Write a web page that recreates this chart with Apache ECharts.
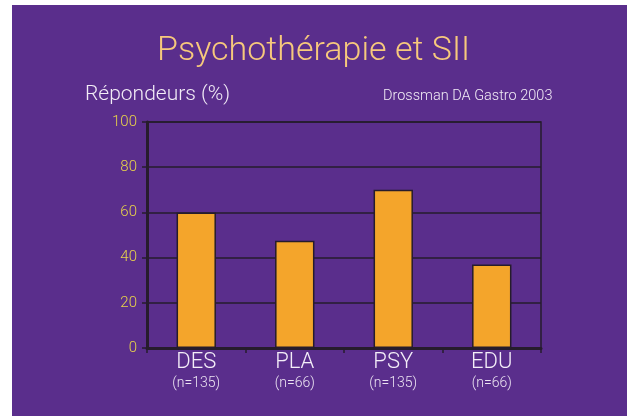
<!DOCTYPE html>
<html>
<head>
<meta charset="utf-8">
<script src="https://cdn.jsdelivr.net/npm/echarts@6/dist/echarts.min.js"></script>
<style>
html,body{margin:0;padding:0;background:#ffffff;}
#chart{width:627px;height:416px;}
</style>
</head>
<body>
<div id="chart"></div>
<script>
var categories = ['DES', 'PLA', 'PSY', 'EDU'];
var sampleSizes = ['(n=135)', '(n=66)', '(n=135)', '(n=66)'];
var responders = [60, 47.5, 70, 37];
var yTicks = { min: 0, max: 100, interval: 20 };

var chart = echarts.init(document.getElementById('chart'), null, { renderer: 'canvas' });
var dark = '#261c2c';
chart.setOption({
  backgroundColor: '#ffffff',
  animation: false,
  graphic: [
    { type: 'rect', z: -10, silent: true, shape: { x: 12, y: 5, width: 615, height: 411 }, style: { fill: '#5a2e8c' } },
    { type: 'text', left: 85, top: 84, style: { text: 'Répondeurs (%)', fill: '#f2ecf6', font: '300 21px Roboto' } },
    { type: 'text', left: 383, top: 89, style: { text: 'Drossman DA Gastro 2003', fill: '#f2ecf6', font: '300 14.5px Roboto' } }
  ],
  title: {
    text: 'Psychothérapie et SII',
    left: 'center', top: 29,
    textStyle: { color: '#f7c97c', fontFamily: 'Roboto', fontWeight: 300, fontSize: 34 }
  },
  grid: { left: 147, right: 86, top: 122, bottom: 68, show: true, borderColor: dark, borderWidth: 1.5, backgroundColor: 'transparent' },
  xAxis: {
    type: 'category',
    data: categories,
    axisLine: { lineStyle: { color: dark, width: 3 } },
    axisTick: { show: true, length: 5, lineStyle: { color: dark, width: 1.5 } },
    axisLabel: {
      margin: 3,
      formatter: function (v, i) { return '{a|' + v + '}\n{b|' + sampleSizes[i] + '}'; },
      rich: {
        a: { color: '#f4eef8', fontFamily: 'Roboto', fontWeight: 300, fontSize: 22, lineHeight: 22 },
        b: { color: '#ece4f2', fontFamily: 'Roboto', fontWeight: 300, fontSize: 14, lineHeight: 20 }
      }
    }
  },
  yAxis: {
    type: 'value',
    min: yTicks.min, max: yTicks.max, interval: yTicks.interval,
    axisLine: { show: true, lineStyle: { color: dark, width: 3 } },
    axisTick: { show: true, length: 5, lineStyle: { color: dark, width: 1.5 } },
    splitLine: { lineStyle: { color: dark, width: 1.5 } },
    axisLabel: { color: '#e8d44a', fontFamily: 'Roboto', fontWeight: 300, fontSize: 15, margin: 10 }
  },
  series: [{
    type: 'bar',
    data: responders,
    barWidth: '40%',
    itemStyle: { color: '#f4a52b', borderColor: dark, borderWidth: 1.5 }
  }]
});
</script>
</body>
</html>
